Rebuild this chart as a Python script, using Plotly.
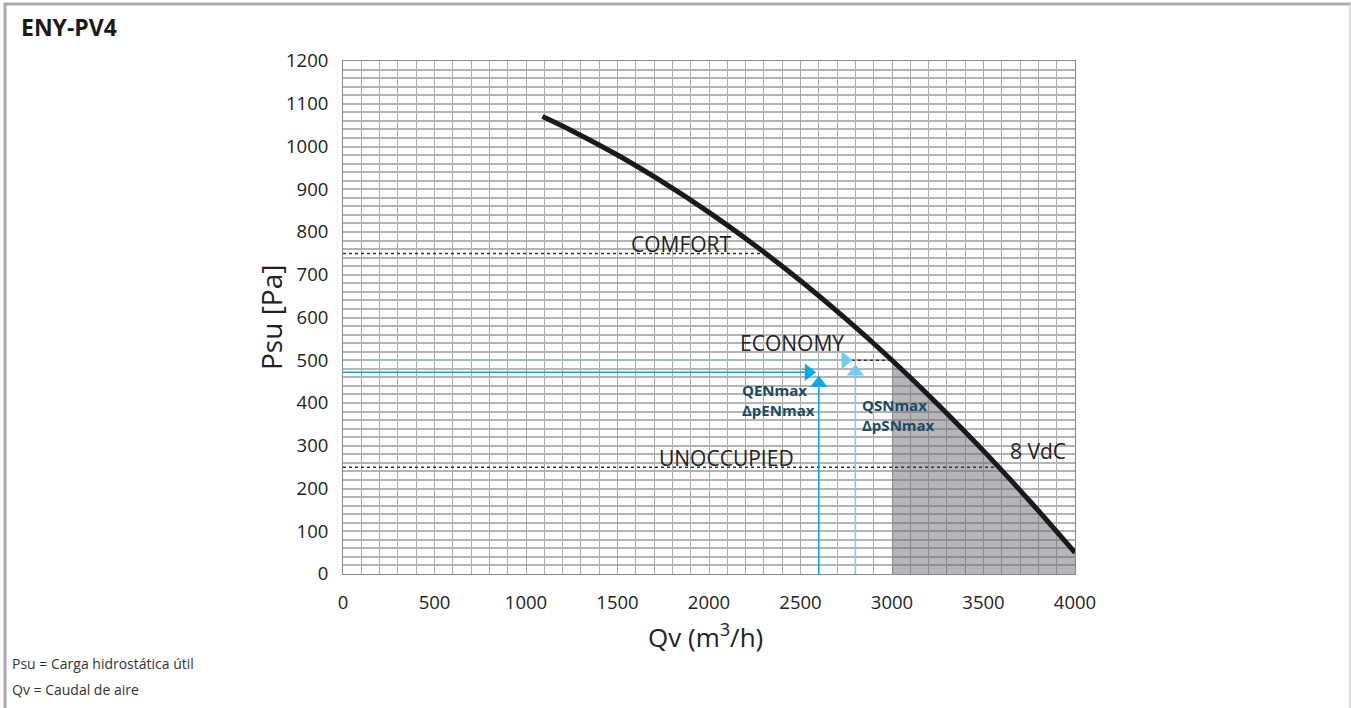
import numpy as np
import plotly.graph_objects as go

# ---- data ----
curve_q = [1090, 1250, 1500, 1750, 2000, 2250, 2500, 2750, 3000, 3250, 3500, 3750, 4000]
curve_p = [1070, 1037, 980, 916, 846, 769, 686, 596, 500, 397, 288, 172, 50]

comfort_p = 750
comfort_q_end = 2305
economy_p = 500
economy_q_end = 3000
unocc_p = 250
unocc_q_end = 3585

qen_q = 2600       # vertical solid blue
qen_p = 472        # horizontal solid blue
qen_h_tip = 2580
qen_v_tip = 462
qsn_q = 2800       # vertical light blue
qsn_p = 500
qsn_h_tip = 2781
qsn_v_tip = 489

x_ticks = [0, 500, 1000, 1500, 2000, 2500, 3000, 3500, 4000]
y_ticks = [0, 100, 200, 300, 400, 500, 600, 700, 800, 900, 1000, 1100, 1200]

BLUE = "#00a9e8"
LBLUE = "#6fcdf3"
FONT = "Open Sans"

fig = go.Figure()

# shaded area under curve for Q >= 3000
cq = np.array(curve_q, dtype=float)
cp = np.array(curve_p, dtype=float)
mask = cq >= economy_q_end
fig.add_trace(go.Scatter(x=list(cq[mask]), y=list(cp[mask]), mode="lines", fill="tozeroy",
                         fillcolor="rgba(105,105,115,0.5)", line=dict(width=0),
                         line_shape="spline", hoverinfo="skip"))

# dotted level lines
fig.add_trace(go.Scatter(x=[0, comfort_q_end], y=[comfort_p, comfort_p], mode="lines",
                         line=dict(color="#333333", width=1.5, dash="dot")))
fig.add_trace(go.Scatter(x=[qsn_h_tip, economy_q_end], y=[economy_p, economy_p], mode="lines",
                         line=dict(color="#333333", width=1.5, dash="dot")))
fig.add_trace(go.Scatter(x=[0, unocc_q_end], y=[unocc_p, unocc_p], mode="lines",
                         line=dict(color="#333333", width=1.5, dash="dot")))

# light-blue dotted lines
fig.add_trace(go.Scatter(x=[0, qsn_h_tip - 40], y=[qsn_p, qsn_p], mode="lines",
                         line=dict(color=LBLUE, width=1.5, dash="dot")))
fig.add_trace(go.Scatter(x=[qsn_q, qsn_q], y=[0, qsn_v_tip - 20], mode="lines",
                         line=dict(color=LBLUE, width=1.5)))
# solid blue lines
fig.add_trace(go.Scatter(x=[0, qen_h_tip - 40], y=[qen_p, qen_p], mode="lines",
                         line=dict(color=BLUE, width=1.5)))
fig.add_trace(go.Scatter(x=[qen_q, qen_q], y=[0, qen_v_tip - 20], mode="lines",
                         line=dict(color=BLUE, width=1.5)))

# arrowheads
fig.add_trace(go.Scatter(x=[qen_h_tip - 36], y=[qen_p], mode="markers",
                         marker=dict(symbol="triangle-right", size=15, color=BLUE)))
fig.add_trace(go.Scatter(x=[qen_q], y=[qen_v_tip - 16], mode="markers",
                         marker=dict(symbol="triangle-up", size=15, color=BLUE)))
fig.add_trace(go.Scatter(x=[qsn_h_tip - 36], y=[qsn_p], mode="markers",
                         marker=dict(symbol="triangle-right", size=15, color=LBLUE)))
fig.add_trace(go.Scatter(x=[qsn_q], y=[qsn_v_tip - 16], mode="markers",
                         marker=dict(symbol="triangle-up", size=15, color=LBLUE)))

# main curve
fig.add_trace(go.Scatter(x=curve_q, y=curve_p, mode="lines", line_shape="spline",
                         line=dict(color="#1a1a1a", width=5)))

grid_col = "#a9a9a9"
fig.update_xaxes(range=[0, 4000], tickvals=x_ticks, ticktext=[str(v) for v in x_ticks],
                 showgrid=True, gridcolor=grid_col, gridwidth=1,
                 minor=dict(dtick=100, showgrid=True, gridcolor=grid_col, gridwidth=1),
                 showline=True, linecolor="#888888", linewidth=1, mirror=True,
                 zeroline=False, ticks="", tickfont=dict(family=FONT, size=18.5, color="#222"),
                 ticklabelstandoff=12)
fig.update_yaxes(range=[0, 1200], tickvals=y_ticks, ticktext=[str(v) for v in y_ticks],
                 showgrid=True, gridcolor="#b4b4b4", gridwidth=1.5,
                 minor=dict(dtick=20, showgrid=True, gridcolor="#b4b4b4", gridwidth=1.5),
                 showline=True, linecolor="#888888", linewidth=1, mirror=True,
                 zeroline=False, ticks="", tickfont=dict(family=FONT, size=18.5, color="#222"),
                 ticklabelstandoff=10)

W, H = 1351, 708
L, R, T, B = 343, 276, 61, 134
pw, ph = W - L - R, H - T - B

def px(xp):
    return (xp - L) / pw

def py(yp):
    return (H - B - yp) / ph

annos = []
def txt(text, x, y, size, xref="x", yref="y", xanchor="center", yanchor="middle",
        color="#222", bold=False, align="center", angle=0, family=FONT):
    if bold:
        text = "<b>" + text.replace("<br>", "</b><br><b>") + "</b>"
    annos.append(dict(text=text, x=x, y=y, xref=xref, yref=yref, xanchor=xanchor,
                      yanchor=yanchor, showarrow=False, align=align, textangle=angle,
                      font=dict(family=family, size=size, color=color)))

txt("COMFORT", 1850, 772, 21)
txt("ECONOMY", 2454, 540, 21)
txt("UNOCCUPIED", 2098, 271, 21)
txt("8 VdC", 3800, 288, 21)
txt("QENmax<br>ΔpENmax", 2169, 407, 15, xanchor="left", color="#1d4b63", bold=True, align="left")
txt("QSNmax<br>ΔpSNmax", 2825, 372, 15, xanchor="left", color="#1d4b63", bold=True, align="left")

txt("Psu [Pa]", px(271), py(318), 28, xref="paper", yref="paper", angle=-90)
txt("Qv (m<sup>3</sup>/h)", px(705), py(636), 26, xref="paper", yref="paper")
txt("ENY-PV4", px(19), py(27), 23, xref="paper", yref="paper", xanchor="left", bold=True, color="#1a1a1a")
txt("Psu = Carga hidrostática útil", px(10), py(663), 14, xref="paper", yref="paper",
    xanchor="left", color="#333")
txt("Qv = Caudal de aire", px(10), py(689), 14, xref="paper", yref="paper",
    xanchor="left", color="#333")

shapes = [
    dict(type="line", xref="paper", yref="paper", x0=px(4), x1=px(1351), y0=py(4), y1=py(4),
         line=dict(color="#aaaaaa", width=3)),
    dict(type="line", xref="paper", yref="paper", x0=px(5), x1=px(5), y0=py(3), y1=py(708),
         line=dict(color="#aaaaaa", width=3)),
    dict(type="line", xref="paper", yref="paper", x0=px(1350), x1=px(1350), y0=py(3), y1=py(708),
         line=dict(color="#d0d0d0", width=1.5)),
]

fig.update_layout(width=W, height=H, margin=dict(l=L, r=R, t=T, b=B, autoexpand=False),
                  paper_bgcolor="white", plot_bgcolor="white", showlegend=False,
                  annotations=annos, shapes=shapes, font=dict(family=FONT))

fig.write_html("out.html", config={"displayModeBar": False},
               post_script="document.body.style.margin='0';document.body.style.overflow='hidden';")
